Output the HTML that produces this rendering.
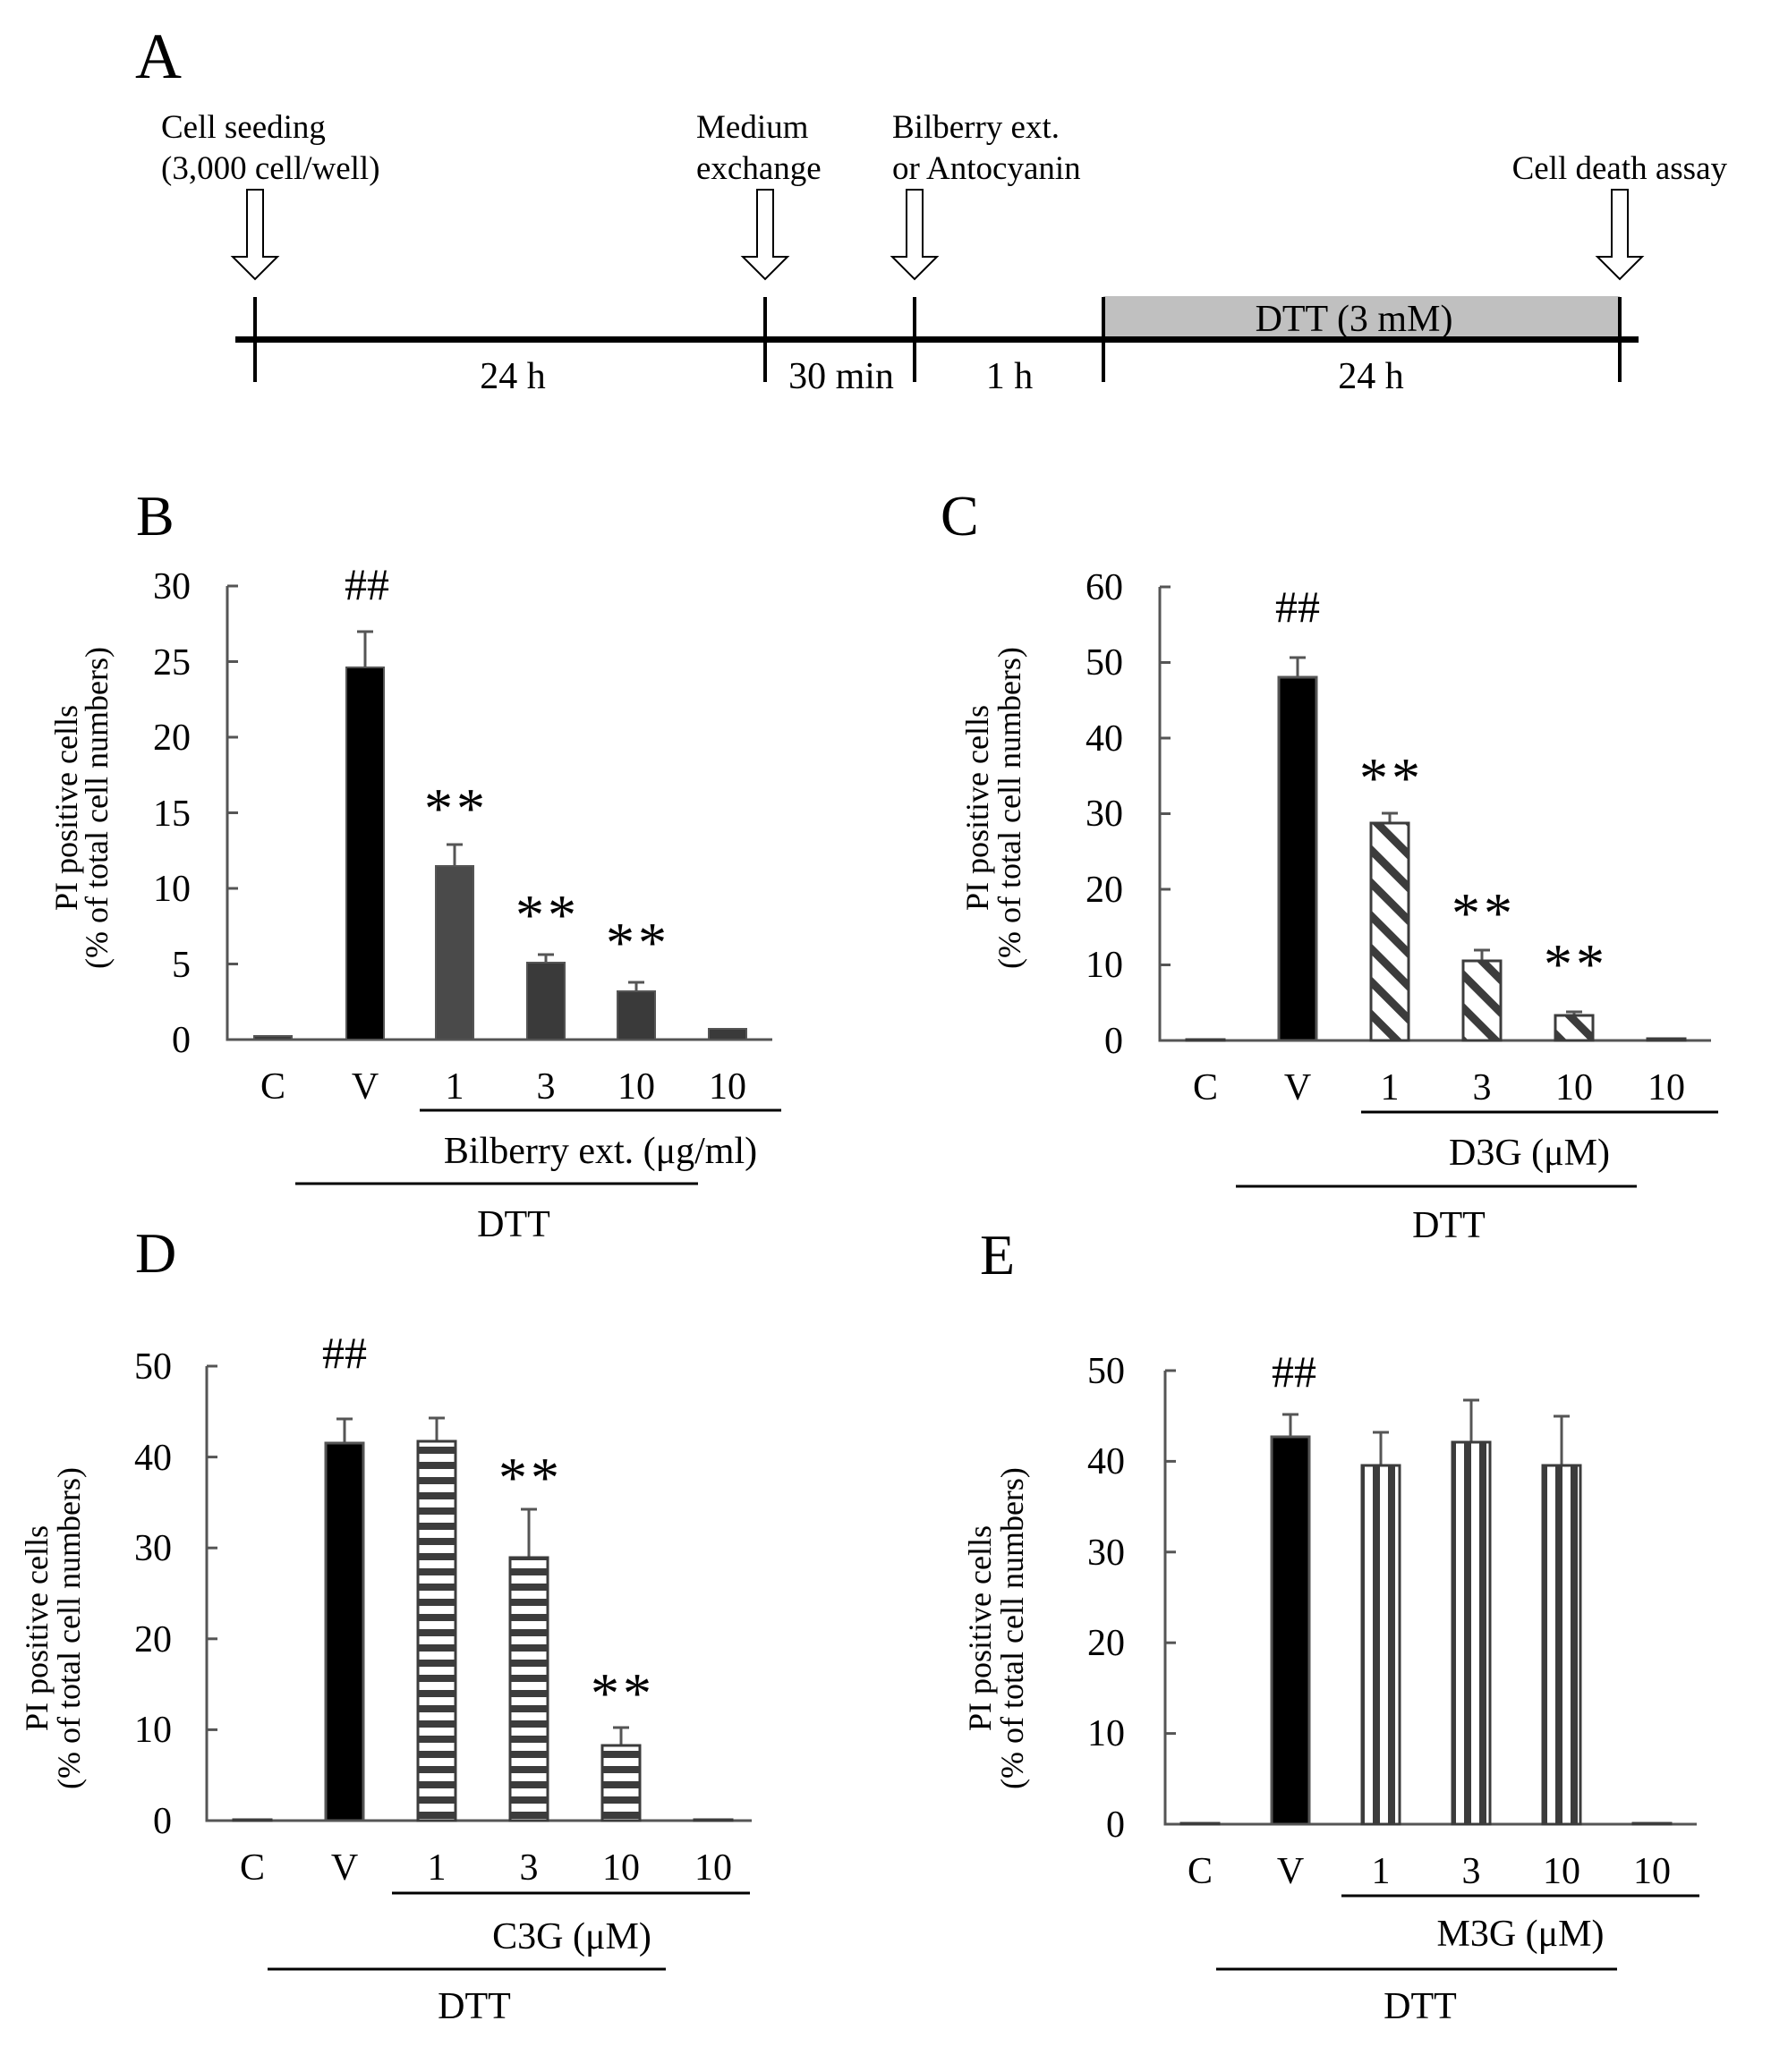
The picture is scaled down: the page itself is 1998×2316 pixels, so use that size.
<!DOCTYPE html>
<html><head><meta charset="utf-8"><style>html,body{margin:0;padding:0;background:#fff}svg{display:block}text{font-family:"Liberation Serif","Times New Roman",serif;fill:#000}</style></head>
<body>
<svg width="1998" height="2316" viewBox="0 0 1998 2316" xmlns="http://www.w3.org/2000/svg">
<defs>
<pattern id="diag" patternUnits="userSpaceOnUse" width="26" height="26" patternTransform="rotate(45)"><rect width="26" height="26" fill="#fff"/><rect width="26" height="9" fill="#3c3c3c"/></pattern>
<pattern id="hor" patternUnits="userSpaceOnUse" width="17" height="17" y="2"><rect width="17" height="17" fill="#fff"/><rect width="17" height="8" fill="#3c3c3c"/></pattern>
<pattern id="ver" patternUnits="userSpaceOnUse" width="17" height="17" x="4"><rect width="17" height="17" fill="#fff"/><rect width="8" height="17" fill="#3c3c3c"/></pattern>
</defs>

<!-- Panel A -->
<text x="151" y="87" font-size="72">A</text>
<g font-size="37">
<text x="180" y="154">Cell seeding</text><text x="180" y="200">(3,000 cell/well)</text>
<text x="778" y="154">Medium</text><text x="778" y="200">exchange</text>
<text x="997" y="154">Bilberry ext.</text><text x="997" y="200">or Antocyanin</text>
<text x="1930" y="200" text-anchor="end">Cell death assay</text>
</g>
<g fill="#fff" stroke="#000" stroke-width="2">
<polygon points="276,212 294,212 294,287 310,287 285,312 260,287 276,287"/>
<polygon points="846,212 864,212 864,287 880,287 855,312 830,287 846,287"/>
<polygon points="1013,212 1031,212 1031,287 1047,287 1022,312 997,287 1013,287"/>
<polygon points="1801,212 1819,212 1819,287 1835,287 1810,312 1785,287 1801,287"/>
</g>
<rect x="1233" y="331" width="577" height="45" fill="#c0c0c0"/>
<rect x="263" y="376" width="1568" height="7" fill="#000"/>
<g stroke="#000" stroke-width="4">
<line x1="285" y1="332" x2="285" y2="427"/><line x1="855" y1="332" x2="855" y2="427"/><line x1="1022" y1="332" x2="1022" y2="427"/><line x1="1233" y1="332" x2="1233" y2="427"/><line x1="1810" y1="332" x2="1810" y2="427"/>
</g>
<g font-size="42" text-anchor="middle">
<text x="1513" y="370">DTT (3 mM)</text>
<text x="573" y="434">24 h</text><text x="940" y="434">30 min</text><text x="1128" y="434">1 h</text><text x="1532" y="434">24 h</text>
</g>

<!-- Panel B -->
<text x="152" y="598" font-size="64">B</text>
<g transform="rotate(-90 86 903)"><text x="86" y="903" font-size="36" text-anchor="middle">PI positive cells</text></g>
<g transform="rotate(-90 120 903)"><text x="120" y="903" font-size="36" text-anchor="middle">(% of  total cell numbers)</text></g>
<g font-size="42" text-anchor="end">
<text x="213" y="1176">0</text><text x="213" y="1092">5</text><text x="213" y="1007">10</text><text x="213" y="923">15</text><text x="213" y="838">20</text><text x="213" y="754">25</text><text x="213" y="669">30</text>
</g>
<g stroke="#555" stroke-width="3" fill="none">
<polyline points="254,655 254,1162 863,1162"/>
<line x1="254" y1="655" x2="266" y2="655"/><line x1="254" y1="739.5" x2="266" y2="739.5"/><line x1="254" y1="824" x2="266" y2="824"/><line x1="254" y1="908.5" x2="266" y2="908.5"/><line x1="254" y1="993" x2="266" y2="993"/><line x1="254" y1="1077.5" x2="266" y2="1077.5"/>
<line x1="408" y1="746" x2="408" y2="706"/><line x1="399" y1="706" x2="417" y2="706"/>
<line x1="508" y1="968" x2="508" y2="944"/><line x1="499" y1="944" x2="517" y2="944"/>
<line x1="610" y1="1076" x2="610" y2="1067"/><line x1="601" y1="1067" x2="619" y2="1067"/>
<line x1="711" y1="1108" x2="711" y2="1098"/><line x1="702" y1="1098" x2="720" y2="1098"/>
</g>
<g stroke="#555" stroke-width="2">
<rect x="284" y="1158" width="42" height="4" fill="#3c3c3c"/>
<rect x="387" y="746" width="42" height="416" fill="#000"/>
<rect x="487" y="968" width="42" height="194" fill="#4a4a4a"/>
<rect x="589" y="1076" width="42" height="86" fill="#3a3a3a"/>
<rect x="690" y="1108" width="42" height="54" fill="#3a3a3a"/>
<rect x="792" y="1150" width="42" height="12" fill="#3a3a3a"/>
</g>
<text x="410" y="670" font-size="50" text-anchor="middle">##</text>
<g font-size="64" text-anchor="middle" letter-spacing="4"><text x="510" y="925">**</text><text x="612" y="1044">**</text><text x="713" y="1075">**</text></g>
<g font-size="42" text-anchor="middle">
<text x="305" y="1228">C</text><text x="408" y="1228">V</text><text x="508" y="1228">1</text><text x="610" y="1228">3</text><text x="711" y="1228">10</text><text x="813" y="1228">10</text>
<text x="671" y="1300">Bilberry ext. (μg/ml)</text><text x="574" y="1382">DTT</text>
</g>
<line x1="469" y1="1241" x2="873" y2="1241" stroke="#000" stroke-width="3"/>
<line x1="330" y1="1323" x2="780" y2="1323" stroke="#000" stroke-width="3"/>

<!-- Panel C -->
<text x="1051" y="598" font-size="64">C</text>
<g transform="rotate(-90 1104 903)"><text x="1104" y="903" font-size="36" text-anchor="middle">PI positive cells</text></g>
<g transform="rotate(-90 1140 903)"><text x="1140" y="903" font-size="36" text-anchor="middle">(% of  total cell numbers)</text></g>
<g font-size="42" text-anchor="end">
<text x="1255" y="1177">0</text><text x="1255" y="1092">10</text><text x="1255" y="1008">20</text><text x="1255" y="923">30</text><text x="1255" y="839">40</text><text x="1255" y="754">50</text><text x="1255" y="670">60</text>
</g>
<g stroke="#555" stroke-width="3" fill="none">
<polyline points="1296,656 1296,1163 1912,1163"/>
<line x1="1296" y1="656" x2="1308" y2="656"/><line x1="1296" y1="740.5" x2="1308" y2="740.5"/><line x1="1296" y1="825" x2="1308" y2="825"/><line x1="1296" y1="909.5" x2="1308" y2="909.5"/><line x1="1296" y1="994" x2="1308" y2="994"/><line x1="1296" y1="1078.5" x2="1308" y2="1078.5"/>
<line x1="1450" y1="757" x2="1450" y2="735"/><line x1="1441" y1="735" x2="1459" y2="735"/>
<line x1="1553" y1="920" x2="1553" y2="909"/><line x1="1544" y1="909" x2="1562" y2="909"/>
<line x1="1656" y1="1074" x2="1656" y2="1062"/><line x1="1647" y1="1062" x2="1665" y2="1062"/>
<line x1="1759" y1="1135" x2="1759" y2="1131"/><line x1="1750" y1="1131" x2="1768" y2="1131"/>
</g>
<g stroke="#3c3c3c" stroke-width="3">
<rect x="1326" y="1162" width="42" height="1" fill="#3c3c3c"/>
<rect x="1429" y="757" width="42" height="406" fill="#000" stroke="#555"/>
<rect x="1532" y="920" width="42" height="243" fill="url(#diag)"/>
<rect x="1635" y="1074" width="42" height="89" fill="url(#diag)"/>
<rect x="1738" y="1135" width="42" height="28" fill="url(#diag)"/>
<rect x="1841" y="1161" width="42" height="2" fill="#3c3c3c"/>
</g>
<text x="1450" y="695" font-size="50" text-anchor="middle">##</text>
<g font-size="64" text-anchor="middle" letter-spacing="4"><text x="1555" y="891">**</text><text x="1658" y="1042">**</text><text x="1761" y="1099">**</text></g>
<g font-size="42" text-anchor="middle">
<text x="1347" y="1229">C</text><text x="1450" y="1229">V</text><text x="1553" y="1229">1</text><text x="1656" y="1229">3</text><text x="1759" y="1229">10</text><text x="1862" y="1229">10</text>
<text x="1709" y="1302">D3G (μM)</text><text x="1619" y="1383">DTT</text>
</g>
<line x1="1521" y1="1243" x2="1920" y2="1243" stroke="#000" stroke-width="3"/>
<line x1="1381" y1="1326" x2="1829" y2="1326" stroke="#000" stroke-width="3"/>

<!-- Panel D -->
<text x="151" y="1422" font-size="64">D</text>
<g transform="rotate(-90 53 1820)"><text x="53" y="1820" font-size="36" text-anchor="middle">PI positive cells</text></g>
<g transform="rotate(-90 89 1820)"><text x="89" y="1820" font-size="36" text-anchor="middle">(% of  total cell numbers)</text></g>
<g font-size="42" text-anchor="end">
<text x="192" y="2049">0</text><text x="192" y="1947">10</text><text x="192" y="1846">20</text><text x="192" y="1744">30</text><text x="192" y="1643">40</text><text x="192" y="1541">50</text>
</g>
<g stroke="#555" stroke-width="3" fill="none">
<polyline points="231,1527 231,2035 840,2035"/>
<line x1="231" y1="1527" x2="243" y2="1527"/><line x1="231" y1="1628.6" x2="243" y2="1628.6"/><line x1="231" y1="1730.2" x2="243" y2="1730.2"/><line x1="231" y1="1831.8" x2="243" y2="1831.8"/><line x1="231" y1="1933.4" x2="243" y2="1933.4"/>
<line x1="385" y1="1613" x2="385" y2="1586"/><line x1="376" y1="1586" x2="394" y2="1586"/>
<line x1="488" y1="1613" x2="488" y2="1585"/><line x1="479" y1="1585" x2="497" y2="1585"/>
<line x1="591" y1="1742" x2="591" y2="1687"/><line x1="582" y1="1687" x2="600" y2="1687"/>
<line x1="694" y1="1951" x2="694" y2="1931"/><line x1="685" y1="1931" x2="703" y2="1931"/>
</g>
<g stroke="#3c3c3c" stroke-width="3">
<rect x="261" y="2034" width="42" height="1" fill="#3c3c3c"/>
<rect x="364" y="1613" width="42" height="422" fill="#000" stroke="#555"/>
<rect x="467" y="1611" width="42" height="424" fill="url(#hor)"/>
<rect x="570" y="1741" width="42" height="294" fill="url(#hor)"/>
<rect x="673" y="1951" width="42" height="84" fill="url(#hor)"/>
<rect x="776" y="2034" width="42" height="1" fill="#3c3c3c"/>
</g>
<text x="385" y="1529" font-size="50" text-anchor="middle">##</text>
<g font-size="64" text-anchor="middle" letter-spacing="4"><text x="593" y="1673">**</text><text x="696" y="1914">**</text></g>
<g font-size="42" text-anchor="middle">
<text x="282" y="2101">C</text><text x="385" y="2101">V</text><text x="488" y="2101">1</text><text x="591" y="2101">3</text><text x="694" y="2101">10</text><text x="797" y="2101">10</text>
<text x="639" y="2178">C3G (μM)</text><text x="530" y="2256">DTT</text>
</g>
<line x1="438" y1="2116" x2="838" y2="2116" stroke="#000" stroke-width="3"/>
<line x1="299" y1="2201" x2="744" y2="2201" stroke="#000" stroke-width="3"/>

<!-- Panel E -->
<text x="1095" y="1424" font-size="64">E</text>
<g transform="rotate(-90 1107 1820)"><text x="1107" y="1820" font-size="36" text-anchor="middle">PI positive cells</text></g>
<g transform="rotate(-90 1143 1820)"><text x="1143" y="1820" font-size="36" text-anchor="middle">(% of  total cell numbers)</text></g>
<g font-size="42" text-anchor="end">
<text x="1257" y="2053">0</text><text x="1257" y="1951">10</text><text x="1257" y="1850">20</text><text x="1257" y="1749">30</text><text x="1257" y="1647">40</text><text x="1257" y="1546">50</text>
</g>
<g stroke="#555" stroke-width="3" fill="none">
<polyline points="1302,1532 1302,2039 1896,2039"/>
<line x1="1302" y1="1532" x2="1314" y2="1532"/><line x1="1302" y1="1633.4" x2="1314" y2="1633.4"/><line x1="1302" y1="1734.8" x2="1314" y2="1734.8"/><line x1="1302" y1="1836.2" x2="1314" y2="1836.2"/><line x1="1302" y1="1937.6" x2="1314" y2="1937.6"/>
<line x1="1442" y1="1606" x2="1442" y2="1581"/><line x1="1433" y1="1581" x2="1451" y2="1581"/>
<line x1="1543" y1="1638" x2="1543" y2="1601"/><line x1="1534" y1="1601" x2="1552" y2="1601"/>
<line x1="1644" y1="1612" x2="1644" y2="1565"/><line x1="1635" y1="1565" x2="1653" y2="1565"/>
<line x1="1745" y1="1638" x2="1745" y2="1583"/><line x1="1736" y1="1583" x2="1754" y2="1583"/>
</g>
<g stroke="#3c3c3c" stroke-width="3">
<rect x="1320" y="2038" width="42" height="1" fill="#3c3c3c"/>
<rect x="1421" y="1606" width="42" height="433" fill="#000" stroke="#555"/>
<rect x="1522" y="1638" width="42" height="401" fill="url(#ver)"/>
<rect x="1623" y="1612" width="42" height="427" fill="url(#ver)"/>
<rect x="1724" y="1638" width="42" height="401" fill="url(#ver)"/>
<rect x="1825" y="2038" width="42" height="1" fill="#3c3c3c"/>
</g>
<text x="1446" y="1550" font-size="50" text-anchor="middle">##</text>
<g font-size="42" text-anchor="middle">
<text x="1341" y="2105">C</text><text x="1442" y="2105">V</text><text x="1543" y="2105">1</text><text x="1644" y="2105">3</text><text x="1745" y="2105">10</text><text x="1846" y="2105">10</text>
<text x="1699" y="2175">M3G (μM)</text><text x="1587" y="2256">DTT</text>
</g>
<line x1="1499" y1="2119" x2="1899" y2="2119" stroke="#000" stroke-width="3"/>
<line x1="1359" y1="2201" x2="1807" y2="2201" stroke="#000" stroke-width="3"/>
</svg>
</body></html>
